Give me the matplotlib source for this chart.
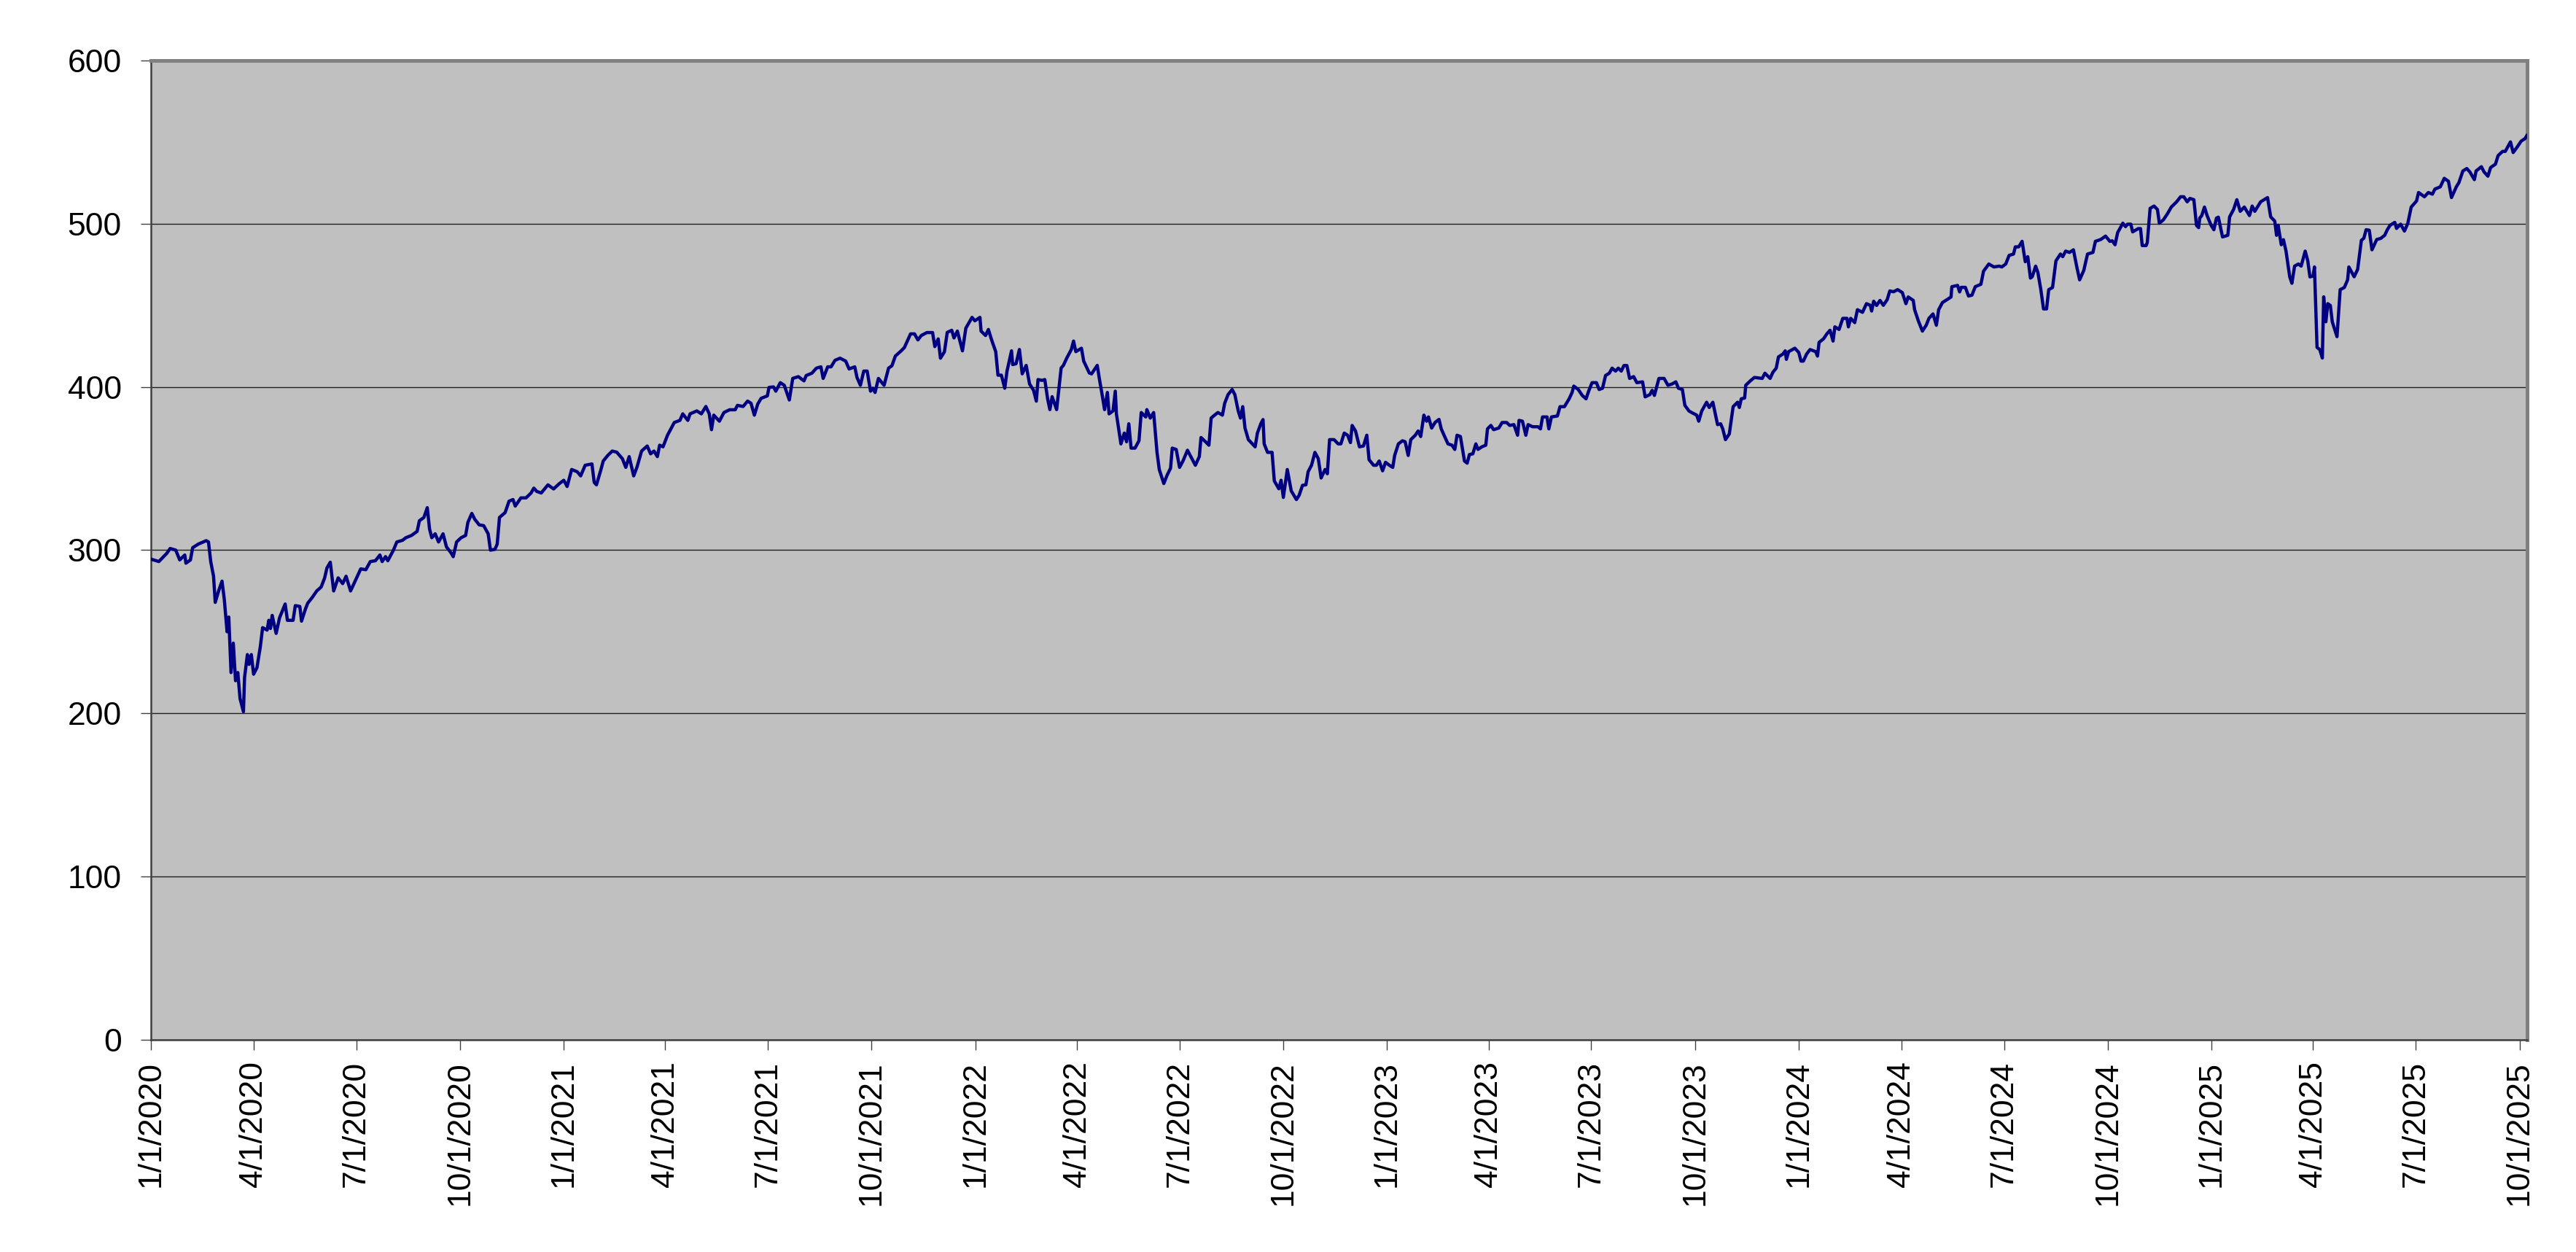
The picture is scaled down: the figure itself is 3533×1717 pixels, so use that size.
import matplotlib
matplotlib.use('Agg')
import matplotlib.pyplot as plt
import pandas as pd

start = pd.Timestamp('2020-01-01')

# days after 1/1/2020 and the closing level
day_offsets = [
    0, 7, 14, 17, 22, 25.5, 30, 31, 35, 37, 42, 49, 51, 53, 55.5, 57, 60, 63, 65, 67.5,
    69, 71, 73, 75, 77, 79, 82, 83, 85.5, 87, 89, 91, 94, 97, 99, 103, 104.5, 106, 107.5, 111,
    114, 119, 121, 126, 128, 132, 133.5, 137, 139, 143, 147, 151, 154, 156, 159, 162, 166, 170, 173, 177,
    181, 186, 190.5, 194.5, 199, 203, 205, 208, 210, 215, 218, 223, 226, 231, 236, 238, 242, 245, 247, 249,
    252, 255, 259, 262, 266, 268, 271, 275, 279, 281, 284.5, 287, 291, 295, 299, 301, 305, 307, 309, 314,
    317.5, 321, 323, 328, 332.5, 337, 339.5, 342, 346, 349, 352, 357,
    362, 366, 369, 373, 378, 381, 385, 391, 393, 395, 399, 401, 405, 409, 413, 418, 421, 424, 428, 431,
    435, 440, 443, 446, 449, 451, 454, 458, 461, 464, 469, 471.5, 476, 478, 484, 488, 492, 495, 497, 499,
    504, 508, 513, 518, 520, 525, 529, 532, 535, 538, 541, 546.5, 548, 552, 554, 558, 561.5, 566, 569, 574,
    579, 581, 586, 590, 594, 596, 600, 603, 606.5, 611, 616, 619, 624, 626, 629, 632, 635, 638, 640, 642,
    645, 650, 654, 657, 660, 665, 668, 673.5, 677, 680, 683, 688, 693, 695, 698, 700, 703.5,
    706, 710, 712, 715, 719.5, 722.5, 728, 730.5, 735, 736, 740, 742.5, 745, 749, 751, 754, 757, 759, 763, 764,
    767, 770, 772.5, 776, 779, 782.5, 785, 786.5, 790, 792.5, 795, 797, 799, 803, 807, 809, 812, 814, 816, 818,
    820, 825, 827, 832, 834, 839, 841, 843, 845.5, 848, 849.5, 853, 855, 856, 860, 863, 865, 867, 869, 872.5,
    876, 878, 882, 883, 886, 889, 892, 894, 898, 901, 904, 905.5, 909, 912, 915, 919, 922, 926, 929.5, 931,
    935, 938, 940, 943, 946, 950, 952, 955, 958.6, 961, 964, 966, 968, 970, 973, 979, 981, 984, 986, 987,
    990, 994, 996, 1000, 1002, 1004, 1007.5, 1011, 1015.6, 1018, 1021, 1024, 1026, 1029, 1032, 1035, 1037.5,
    1041, 1043, 1045, 1049, 1052.6,
    1055, 1058, 1061, 1063.5, 1065, 1068, 1071.5, 1075, 1078, 1080, 1084, 1086.5, 1089, 1092, 1094.6, 1098,
    1101, 1102.7, 1106, 1109.6, 1112, 1114.7, 1117, 1121, 1123.5, 1125.8, 1128.6, 1131, 1132.7, 1135.5, 1138.5,
    1142, 1144, 1147, 1150, 1153.5, 1156, 1158, 1161, 1164.6, 1167, 1169, 1172, 1174.7, 1176.6, 1180, 1183.5,
    1185, 1188, 1190.4, 1195, 1198, 1202, 1204.7, 1208.4, 1211.7, 1213, 1216, 1219, 1221, 1225, 1229.7, 1232,
    1233.8, 1237.8, 1239.4, 1241.7, 1247, 1249.3, 1253.2, 1257.4, 1260, 1261.5, 1265.5, 1269, 1272.4, 1274.7,
    1277.7, 1281.6, 1284, 1287, 1289.7, 1293, 1295.5, 1298.5, 1301, 1303.6, 1306, 1308.6, 1311, 1314.6, 1317.4,
    1322.5, 1324.8, 1329, 1331, 1333, 1337, 1341.6, 1345, 1348.6, 1352, 1354.3, 1357.8, 1360, 1363.6, 1366,
    1370.5, 1372.3, 1375, 1379.3, 1381.6, 1384.8, 1389, 1391.7, 1393.6, 1396, 1399.4, 1402.8,
    1406.7, 1408.3, 1410, 1413, 1414, 1418, 1421.7, 1428.6, 1431, 1435.6, 1438, 1441, 1443, 1447, 1449, 1450,
    1452, 1457.5, 1461, 1463, 1465, 1468, 1471, 1476, 1477.6, 1479, 1483, 1486, 1488.7, 1491.4, 1493, 1496.7,
    1500, 1503.7, 1505, 1507, 1510.6, 1513, 1517.5, 1521, 1524.4, 1525.6, 1527.4, 1530, 1533, 1536, 1539.4,
    1541.7, 1545, 1548.7, 1552.8, 1556, 1558, 1562.5, 1563.7, 1567, 1570.6, 1574, 1576.4, 1580, 1583, 1585,
    1588.4, 1592.5, 1596, 1596.7, 1601.8, 1603.6, 1605, 1608.7, 1611.5, 1614.5, 1617.5, 1622.5, 1624.8, 1629.5,
    1634, 1638.7, 1641, 1644.5, 1647.5, 1651.4, 1653, 1656, 1659, 1661.8, 1664, 1666.4, 1668, 1671, 1673,
    1675.6, 1678, 1680.7, 1682.6, 1686, 1689, 1693, 1695, 1697.6, 1701, 1704.5, 1707.5, 1710, 1713.7, 1717,
    1721.8, 1724, 1728.7, 1733, 1736.8, 1739, 1741.4, 1743.7, 1748.3, 1750.7,
    1752.5, 1755.4, 1757, 1762, 1764, 1765.5, 1769, 1770, 1772.5, 1776, 1779, 1780.7, 1784.3, 1787.8, 1791.3,
    1796, 1799.5, 1802.4, 1805.4, 1807.8, 1811.3, 1813.6, 1815.5, 1816.5, 1818.3, 1820.7, 1823, 1826.6, 1829,
    1831.3, 1833, 1834.8, 1836.7, 1841.4, 1843, 1846.5, 1849.4, 1852.4, 1856, 1860.6, 1863, 1865.3, 1870.5,
    1876.6, 1879.4, 1883, 1884.6, 1886, 1888.8, 1890.7, 1893, 1896.3, 1898.2, 1900.6, 1904, 1906.4, 1910,
    1912.3, 1914.2, 1917, 1918.2, 1920.5, 1922.9, 1925.2, 1926.4, 1928.3, 1930, 1932.3, 1934, 1938.2, 1941,
    1944.7, 1947.6, 1948.7, 1953.4, 1956.5, 1959.8, 1962, 1964, 1966.8, 1969.2, 1973.4, 1977, 1980.5, 1982.8,
    1985.2, 1989.4, 1991, 1994.6, 1998, 2001, 2004, 2008.7, 2010.5, 2015.7, 2019.2, 2022.8, 2025, 2029.8,
    2033.3, 2037, 2039.7, 2044, 2046.3, 2049.8, 2053.3, 2056, 2060, 2061.5, 2066.2, 2068.6, 2072, 2074.4,
    2078.7, 2081, 2085, 2087.4, 2092, 2094.4, 2098, 2101.5, 2105, 2106.5,
]

closes = [
    294.5, 293, 298, 301, 300, 294, 297, 292, 294, 301.5, 303.7, 305.8, 305, 293, 284, 268, 275, 281, 270, 250,
    259, 225, 243, 220, 225, 209, 201, 222, 236, 230, 236, 224, 228, 241, 252.5, 251, 257, 252, 260, 249,
    258.5, 267, 257, 257, 266, 265.5, 256.5, 264, 267.5, 271, 275, 277.5, 283, 289, 292.6, 275, 283, 279.5, 284, 275,
    281, 288.5, 288, 293, 293.5, 297, 293, 296, 293.5, 300, 305, 306, 307.6, 309, 311.5, 318, 320, 326, 313, 307.6,
    310, 305, 310, 302, 298.4, 296, 305, 307.6, 309, 317, 322.5, 319, 315.5, 315, 310, 300, 300.5, 303.7, 320, 323,
    330, 331, 327, 332, 332, 335, 338, 336, 335, 337.5, 340, 337.5,
    340.7, 342.8, 339, 349.4, 348, 345.5, 352, 352.8, 341.5, 340, 349.4, 354.6, 358, 360.7, 360, 356, 350.7, 357.3, 345.5, 351,
    360.7, 363.8, 359, 360.7, 357.3, 364.3, 363.3, 370.4, 374.3, 378.2, 379.5, 383.5, 379.5, 383.5, 385.3, 383.5, 388, 383.5, 373.8, 382.7,
    379, 384.3, 386, 386, 388.7, 388, 391.3, 390, 382.7, 389.5, 393, 394.5, 399.7, 400, 397.4, 402.6, 401, 392, 405.2, 406.3,
    403.7, 407, 408.4, 411.5, 412.3, 405.2, 412.3, 412.3, 416.3, 417.6, 415.8, 411, 412.3, 405.8, 401, 409.7, 409.7, 397.4, 399.2, 396.6,
    405.2, 401, 411.5, 413, 418.9, 422, 424.1, 432.5, 432.5, 428.8, 431.5, 433.3, 433.3, 424.7, 429.4, 417.6, 421.5,
    433.4, 434.7, 430, 434.2, 422.1, 436, 442.6, 440.5, 442.6, 434.2, 431.5, 435.2, 429.5, 421.6, 407.2, 407.2, 399.2, 409.7, 422.1, 413.7,
    414.2, 422.9, 408, 413.2, 401.8, 398, 391.3, 404.5, 404, 404.5, 392.7, 386.1, 394, 386.1, 411.6, 413.2, 417.7, 420.3, 422.9, 428.1,
    421.6, 423.7, 415.8, 408.5, 408, 413.2, 404.5, 396.6, 386.1, 396.6, 383.5, 385.3, 397.4, 383.5, 365.1, 371.7, 366.4, 377.4, 362.5, 362.5,
    367, 384.3, 381.6, 386.1, 380.9, 384.3, 359.9, 349.4, 340.8, 346, 350.2, 362.5, 361.7, 350.7, 354.6, 361.2, 357.3, 352, 357.3, 369,
    366.4, 364.3, 380.9, 382.7, 384.3, 382.7, 390, 395.3, 398.4, 395.3, 385.3, 380.9, 387.9, 374.8, 367.7, 363.3, 371.7, 377.4, 380, 365.1,
    359.9, 359.9, 342.4, 337.6, 342.8, 332.3, 349.4, 336.3, 331, 333.6, 339.7, 340, 348.1, 352, 359.9, 356, 344.2,
    349.4, 346.8, 367.7, 367.7, 365.1,
    365.1, 371.7, 370.4, 365.9, 376.4, 373, 363.3, 363.8, 370.4, 355.4, 352, 352, 354.6, 348.6, 353.8, 352,
    350.7, 358, 365.1, 367, 366.4, 358, 367.7, 370.4, 373, 369.6, 382.7, 379, 381.6, 374.8, 378.2,
    380.1, 374.3, 369.6, 365.1, 364.3, 361.7, 370.4, 369.6, 354.6, 353.3, 358.6, 359, 365.1, 361.7, 363.3, 364.3,
    374.3, 376.4, 373.8, 374.8, 378.2, 378.2, 376.4, 376.9, 370.4, 379.5, 379, 370.4, 376.9, 375.6, 375.6, 374.3,
    381.6, 381.6, 374.3, 381.6, 382.2, 387.9, 387.9, 392.7, 396.6, 400.5, 398.4, 394.8, 392.7, 397.4,
    402.6, 402.6, 398.4, 399.2, 407, 408.4, 411.5, 409.7, 411.5, 409.7, 413.1, 413.1, 405.2, 406.3, 402.6,
    403.1, 393.9, 395.3, 397.9, 394.8, 405.2, 405.2, 401, 401.8, 403.1, 399.2, 398.4, 388.7, 385.3, 384.3,
    382.7, 379, 385.3, 390.6, 387.4, 390.6, 376.9, 377.4, 374.3, 367.7, 371.2, 387.9,
    390.6, 387.4, 392.7, 393.2, 401, 403.7, 405.8, 405.2, 408.4, 405.2, 408.9, 411.5, 418.4, 420.2, 422.1, 416.9,
    421.6, 423.7, 421.1, 415.8, 415.8, 420.2, 422.9, 421.6, 418.9, 427.3, 429.5, 432.6, 434.7, 428.1, 436.8, 435.2,
    442, 442, 436.8, 442, 439.4, 447.3, 445.7, 451, 450, 446.5, 452.5, 449.9, 453, 450, 453.5,
    458.8, 458.3, 459.6, 457.8, 451, 455.1, 453, 447.3, 440.5, 434.2, 437.8, 442, 444.7, 437.8, 447.3,
    451.7, 453.5, 455.1, 461.4, 462.2, 458.2, 461, 461, 455.7, 456.2, 461.4, 462.9, 470.9, 475.3,
    473.5, 474, 473.5, 475.3, 480.6, 481.4, 485.8, 485.8, 489.2, 476.7, 479.8, 466.7, 467.5, 474, 470.1,
    459.6, 447.8, 447.8, 459.6, 460.9, 477.2, 481.4, 479.8, 483.2, 482.4, 484, 473.5, 465.6, 471.4, 481.4,
    482.4, 489.2, 490.3, 492.4, 489.2, 489.5, 487.1, 494.5, 500.3, 498.2,
    499.7, 499.7, 495, 497, 497, 486.6, 486.6, 488.5, 509.4, 510.8, 508.7, 500.3, 502.4, 506, 510.2,
    513.4, 516.5, 516.5, 513.4, 515.5, 514.7, 499, 497.6, 503.4, 505, 510.2, 505, 499, 496.3,
    503.4, 504, 498.2, 491.9, 492.9, 504.2, 508.7, 514.7, 507.6, 510.2, 505, 510.8, 507.6, 513.4,
    516, 504.2, 501.6, 492.9, 499, 487.1, 490.2, 483.2, 467.4, 463.5, 474, 475.3, 474, 483.2,
    477.2, 467.4, 468, 473.5, 424.2, 422.9, 417.7, 455.2, 439.9, 451, 449.9, 439.9, 430.8, 459.6,
    460.9, 465.6, 473.5, 467.5, 472, 489.8, 491.1, 496.3, 496, 484, 490.3, 491, 492.9, 496.3,
    499, 500.8, 497.1, 499.7, 495.5, 500.3, 510.2, 513.9, 519.1, 516.5, 519.1, 518.1, 521.2, 522.6,
    527.8, 526, 516, 522.6, 525.2, 532.3, 533.8, 531.7, 527, 532.3, 534.9, 531.7, 529.1, 534.4,
    536.5, 541.7, 544.3, 544.3, 550.1, 543.6, 547, 550.6, 552.2, 554,
]

tick_labels = [
    '1/1/2020', '4/1/2020', '7/1/2020', '10/1/2020',
    '1/1/2021', '4/1/2021', '7/1/2021', '10/1/2021',
    '1/1/2022', '4/1/2022', '7/1/2022', '10/1/2022',
    '1/1/2023', '4/1/2023', '7/1/2023', '10/1/2023',
    '1/1/2024', '4/1/2024', '7/1/2024', '10/1/2024',
    '1/1/2025', '4/1/2025', '7/1/2025', '10/1/2025',
]
y_ticks = [0, 100, 200, 300, 400, 500, 600]

dates = start + pd.to_timedelta(day_offsets, unit='D')
tick_dates = pd.to_datetime(tick_labels, format='%m/%d/%Y')

plt.rcParams['font.family'] = ['Liberation Sans', 'DejaVu Sans']

fig = plt.figure(figsize=(35.33, 17.17), dpi=100)
ax = fig.add_axes([0.0586, 0.1695, 0.9224, 0.7822])
ax.set_facecolor('#C0C0C0')

ax.plot(dates, closes, color='#000080', lw=3.2, solid_joinstyle='round', zorder=3)

ax.set_ylim(0, 600)
ax.set_yticks(y_ticks)
ax.set_xlim(start, start + pd.Timedelta(days=2106.7))
ax.set_xticks(tick_dates)
ax.set_xticklabels(tick_labels, rotation=90)

ax.yaxis.grid(True, color='#202020', lw=1.0)
ax.set_axisbelow(True)

for side in ['top', 'right']:
    ax.spines[side].set_color('#808080')
    ax.spines[side].set_linewidth(3.6)
for side in ['left', 'bottom']:
    ax.spines[side].set_color('#404040')
    ax.spines[side].set_linewidth(1.8)

ax.tick_params(axis='y', direction='out', length=10, width=1, color='#404040',
               labelsize=32, pad=19)
ax.tick_params(axis='x', direction='out', length=10, width=1, color='#404040',
               labelsize=32, pad=11)

fig.savefig('out.png', dpi=100)
